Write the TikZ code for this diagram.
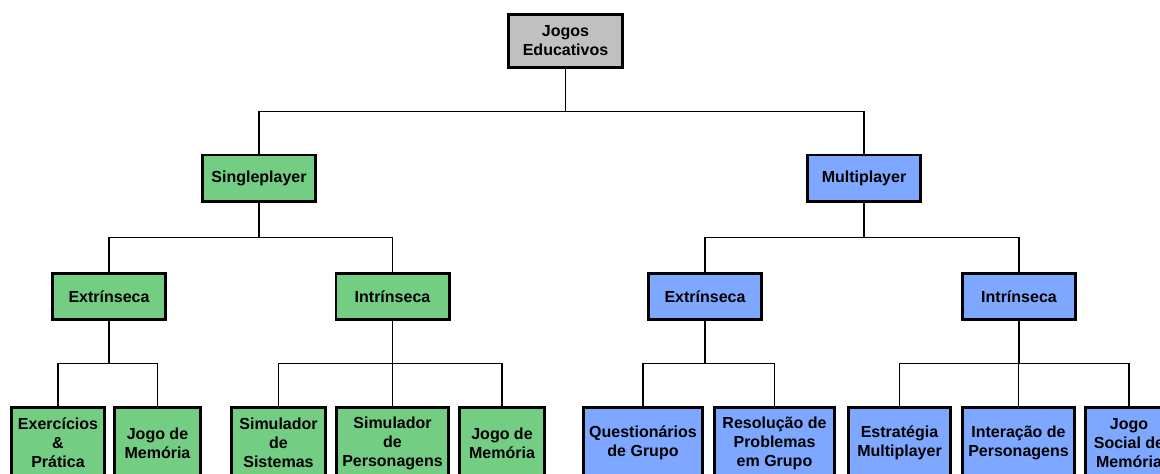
\documentclass[tikz,border=0pt]{standalone}
\usepackage{fontspec}
\setmainfont{Liberation Sans}
\usetikzlibrary{calc}
\definecolor{cinza}{RGB}{192,192,192}
\definecolor{verde}{RGB}{115,205,131}
\definecolor{azul}{RGB}{126,168,255}
\tikzset{
  caixa/.style={draw, line width=2.8pt, align=center, inner sep=0pt,
    minimum width=113.2pt, minimum height=46.2pt,
    font=\bfseries\fontsize{16}{19}\selectfont},
  folha/.style={caixa, minimum height=71.2pt},
  ramo/.style={line width=1.2pt,
    to path={(\tikztostart) -- ($(\tikztostart)!.5!(\tikztostart |- \tikztotarget)$) -| (\tikztotarget)}}
}
\begin{document}
\begin{tikzpicture}[x=1pt,y=-1pt]
\useasboundingbox (0,0) rectangle (1160,474);
\clip (0,0) rectangle (1160,474);

\node [caixa, fill=cinza, minimum width=114.2pt, minimum height=53.2pt] (jogos) at (565.5,41) {Jogos\\Educativos};

\node [caixa, fill=verde] (single) at (259,178) {Singleplayer};
\node [caixa, fill=azul] (multi) at (864,178) {Multiplayer};

\node [caixa, fill=verde] (sext) at (109,296.5) {Extrínseca};
\node [caixa, fill=verde] (sint) at (392.5,296.5) {Intrínseca};
\node [caixa, fill=azul] (mext) at (705,296.5) {Extrínseca};
\node [caixa, fill=azul] (mint) at (1019,296.5) {Intrínseca};

\node [folha, fill=verde, minimum width=93.2pt] (exerc) at (58,443) {Exercícios\\\&\\Prática};
\node [folha, fill=verde, minimum width=86.2pt] (memext) at (157.5,443) {Jogo de\\Memória};
\node [folha, fill=verde, minimum width=94.2pt] (simsis) at (278.5,443) {Simulador\\de\\Sistemas};
\node [folha, fill=verde, minimum width=112.2pt] (simpers) at (392.5,443) {Simulador\\de\\Personagens};
\node [folha, fill=verde, minimum width=85.2pt] (memint) at (502,443) {Jogo de\\Memória};
\node [folha, fill=azul, minimum width=119.2pt] (quest) at (643,443) {Questionários\\de Grupo};
\node [folha, fill=azul, minimum width=120.2pt] (resol) at (774.5,443) {Resolução de\\Problemas\\em Grupo};
\node [folha, fill=azul, minimum width=102.2pt] (estrat) at (899.5,443) {Estratégia\\Multiplayer};
\node [folha, fill=azul, minimum width=112.2pt] (inter) at (1018.5,443) {Interação de\\Personagens};
\node [folha, fill=azul, minimum width=87.2pt] (social) at (1129,443) {Jogo\\Social de\\Memória};

\foreach \pai/\filho in {jogos/single, jogos/multi, single/sext, single/sint,
    multi/mext, multi/mint, sext/exerc, sext/memext, sint/simsis, sint/simpers,
    sint/memint, mext/quest, mext/resol, mint/estrat, mint/inter, mint/social}
  \draw [ramo] (\pai.south) to (\filho.north);
\end{tikzpicture}
\end{document}
